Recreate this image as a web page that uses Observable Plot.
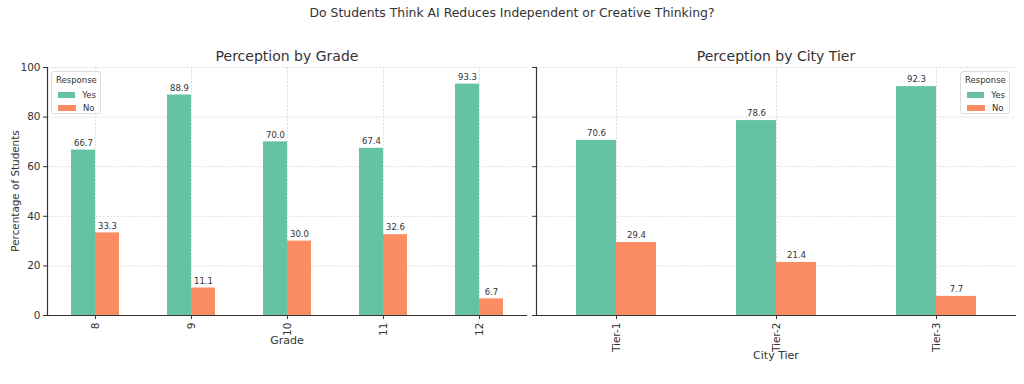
<!DOCTYPE html>
<html><head><meta charset="utf-8">
<script src="https://cdn.jsdelivr.net/npm/d3@7"></script>
<script src="https://cdn.jsdelivr.net/npm/@observablehq/plot@0.6"></script>
<style>
body{margin:0;background:#fff;font-family:"DejaVu Sans",sans-serif;}
#wrap{position:relative;width:1024px;height:384px;overflow:hidden;background:#fff}
.abs{position:absolute;color:#333;white-space:nowrap;line-height:1}
.c{transform:translate(-50%,-50%)}
.legend{position:absolute;border:1px solid #ddd;border-radius:3px;background:rgba(255,255,255,0.85);padding:3px 4px 3px 4px;font-size:8.5px;color:#333;box-sizing:border-box}
.legend .t{text-align:center;margin-bottom:3px}
.legend .row{display:flex;align-items:center;height:13px}
.legend .sw{width:18px;height:6px;margin-left:2px;margin-right:7px}
svg{position:absolute;top:0}
</style></head><body><div id="wrap"></div>
<script>
const grades = ["8", "9", "10", "11", "12"];
const gradeYes = [66.7, 88.9, 70.0, 67.4, 93.3];
const gradeNo = [33.3, 11.1, 30.0, 32.6, 6.7];
const tiers = ["Tier-1", "Tier-2", "Tier-3"];
const tierYes = [70.6, 78.6, 92.3];
const tierNo = [29.4, 21.4, 7.7];
const responses = ["Yes", "No"];
const palette = ["#66c2a5", "#fc8d62"];
const yTicks = [0, 20, 40, 60, 80, 100];

const wrap = document.getElementById("wrap");

function panel(cats, yes, no, width, marginLeft, marginRight, showYLabels) {
  const yesData = cats.map((c, i) => ({cat: c, resp: "Yes", v: yes[i]}));
  const noData = cats.map((c, i) => ({cat: c, resp: "No", v: no[i]}));
  const half = (width - marginLeft - marginRight) / cats.length * 0.25;
  const textOpts = {x: "cat", y: "v", text: d => d.v.toFixed(1), dy: -7, fontSize: 8.5, fill: "#333", stroke: "white", strokeWidth: 3};
  return Plot.plot({
    width, height: 384,
    marginTop: 67, marginBottom: 69, marginLeft, marginRight,
    style: {fontFamily: "DejaVu Sans", fontSize: "10px", color: "#333", background: "transparent", overflow: "visible"},
    x: {domain: cats, paddingInner: 0.5, paddingOuter: 0.25, label: null, axis: null},
    y: {domain: [0, 100], axis: null},
    color: {domain: responses, range: palette},
    marks: [
      Plot.gridY({ticks: yTicks, stroke: "#dedede", strokeOpacity: 1, strokeDasharray: "2,1.5"}),
      Plot.gridX({stroke: "#dedede", strokeOpacity: 1, strokeDasharray: "2,1.5"}),
      Plot.barY(yesData, {x: "cat", y: "v", fill: "resp", insetRight: half}),
      Plot.barY(noData, {x: "cat", y: "v", fill: "resp", insetLeft: half}),
      Plot.text(yesData, {...textOpts, dx: -half / 2}),
      Plot.text(noData, {...textOpts, dx: half / 2}),
      Plot.axisY({ticks: yTicks, tickSize: 4, tickPadding: 3, fontSize: 10.5, label: null, tickFormat: showYLabels ? (d => d) : (() => "")}),
      Plot.axisX({tickRotate: -90, tickSize: 4, tickPadding: 3, fontSize: 10.5, label: null}),
      Plot.ruleY([0], {stroke: "#333", strokeWidth: 1.2}),
      Plot.frame({anchor: "left", stroke: "#333", strokeWidth: 1.2})
    ]
  });
}

const p1 = panel(grades, gradeYes, gradeNo, 527, 47, 0, true);
p1.style.left = "0px";
wrap.appendChild(p1);
const p2 = panel(tiers, tierYes, tierNo, 497, 9, 8, false);
p2.style.left = "527px";
wrap.appendChild(p2);

function label(text, x, y, size, rotate) {
  const d = document.createElement("div");
  d.className = "abs c";
  d.textContent = text;
  d.style.left = x + "px";
  d.style.top = y + "px";
  d.style.fontSize = size + "px";
  if (rotate) d.style.transform = "translate(-50%,-50%) rotate(-90deg)";
  wrap.appendChild(d);
}
label("Do Students Think AI Reduces Independent or Creative Thinking?", 512, 13, 12.4);
label("Perception by Grade", 287, 56, 14);
label("Perception by City Tier", 776, 56, 14);
label("Percentage of Students", 15, 191, 10.4, true);
label("Grade", 287, 340, 11);
label("City Tier", 776, 355, 11);

function legend(left) {
  const L = document.createElement("div");
  L.className = "legend";
  L.style.left = left + "px";
  L.style.top = "71px";
  L.style.width = "50px";
  L.style.height = "43px";
  const t = document.createElement("div");
  t.className = "t"; t.textContent = "Response";
  L.appendChild(t);
  responses.forEach((r, i) => {
    const row = document.createElement("div");
    row.className = "row";
    const sw = document.createElement("div");
    sw.className = "sw"; sw.style.background = palette[i];
    const tx = document.createElement("span");
    tx.textContent = r;
    row.appendChild(sw); row.appendChild(tx);
    L.appendChild(row);
  });
  wrap.appendChild(L);
}
legend(51);
legend(960);
</script></body></html>
